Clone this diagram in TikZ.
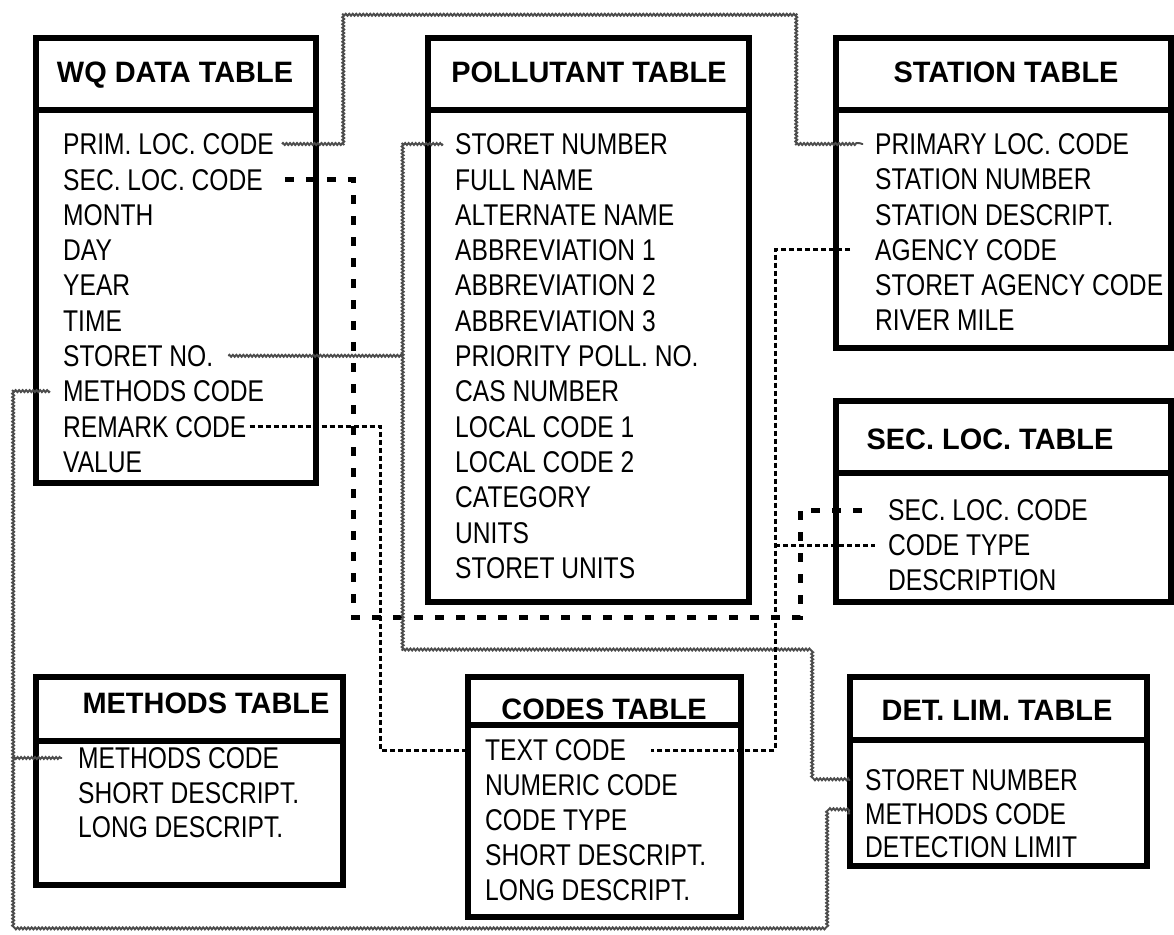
\documentclass[tikz,border=0pt]{standalone}
\usepackage{fontspec}
\setmainfont{Liberation Sans}
\newfontfamily\bodyfont{Liberation Sans}[FakeStretch=0.82]
\newfontfamily\headfont{Liberation Sans}[FakeStretch=0.98]
\usetikzlibrary{decorations.pathmorphing}
\begin{document}
\begin{tikzpicture}[x=1pt,y=-1pt,
  tbox/.style={draw, line width=6pt, outer sep=0pt, inner sep=0pt, anchor=north west},
  tdiv/.style={line width=5.5pt},
  ttl/.style={inner sep=0pt, text height=21pt, text depth=0pt, font=\headfont\bfseries\fontsize{29.5}{35}\selectfont},
  item/.style={anchor=west, inner sep=0pt, text height=21.5pt, text depth=0pt, font=\bodyfont\fontsize{30}{35}\selectfont},
  wavy/.style={draw=black!70, line width=1.9pt, decorate, decoration={snake, amplitude=1pt, segment length=3.5pt}},
  fkdash/.style={draw, line width=3pt, dash pattern=on 5pt off 3pt},
  sldash/.style={draw, line width=5pt, dash pattern=on 9pt off 12pt}]
\useasboundingbox (0,0) rectangle (1174,934);
\fill[white] (0,0) rectangle (1174,934);

% ---- tables ----
\node[tbox, minimum width=280pt, minimum height=445pt] (wq) at (36,38) {};
\draw[tdiv] (36,110) -- (316,110);
\node[ttl] (wqt) at (175,72) {WQ DATA TABLE};

\node[tbox, minimum width=320.5pt, minimum height=564pt] (pol) at (428,38) {};
\draw[tdiv] (428,110) -- (748.5,110);
\node[ttl] (polt) at (589,72) {POLLUTANT TABLE};

\node[tbox, minimum width=335pt, minimum height=310pt] (st) at (836,38) {};
\draw[tdiv] (836,110) -- (1171,110);
\node[ttl] (stt) at (1006,72) {STATION TABLE};

\node[tbox, minimum width=335pt, minimum height=201pt] (sl) at (836,401) {};
\draw[tdiv] (836,473) -- (1171,473);
\node[ttl] (slt) at (990,439) {SEC. LOC. TABLE};

\node[tbox, minimum width=307pt, minimum height=208pt] (mt) at (36,677) {};
\draw[tdiv] (36,741) -- (343,741);
\node[ttl] (mtt) at (206,703) {METHODS TABLE};

\node[tbox, minimum width=273pt, minimum height=240pt] (ct) at (468,677) {};
\draw[tdiv] (468,725) -- (741,725);
\node[ttl] (ctt) at (604,709) {CODES TABLE};

\node[tbox, minimum width=297pt, minimum height=189pt] (dl) at (850,677) {};
\draw[tdiv] (850,740) -- (1147,740);
\node[ttl] (dlt) at (997,710) {DET. LIM. TABLE};

% ---- items ----
\foreach \t [count=\i] in {PRIM. LOC. CODE, SEC. LOC. CODE, MONTH, DAY, YEAR, TIME, STORET NO., METHODS CODE, REMARK CODE, VALUE}
  \node[item] (wq\i) at (63,{144+35.3*(\i-1)}) {\t};
\foreach \t [count=\i] in {STORET NUMBER, FULL NAME, ALTERNATE NAME, ABBREVIATION 1, ABBREVIATION 2, ABBREVIATION 3, PRIORITY POLL. NO., CAS NUMBER, LOCAL CODE 1, LOCAL CODE 2, CATEGORY, UNITS, STORET UNITS}
  \node[item] (p\i) at (455,{144+35.3*(\i-1)}) {\t};
\foreach \t [count=\i] in {PRIMARY LOC. CODE, STATION NUMBER, STATION DESCRIPT., AGENCY CODE, STORET AGENCY CODE, RIVER MILE}
  \node[item] (st\i) at (875,{144+35.2*(\i-1)}) {\t};
\foreach \t [count=\i] in {SEC. LOC. CODE, CODE TYPE, DESCRIPTION}
  \node[item] (sl\i) at (888,{510+35*(\i-1)}) {\t};
\foreach \t [count=\i] in {METHODS CODE, SHORT DESCRIPT., LONG DESCRIPT.}
  \node[item] (mt\i) at (78,{758+34.5*(\i-1)}) {\t};
\foreach \t [count=\i] in {TEXT CODE, NUMERIC CODE, CODE TYPE, SHORT DESCRIPT., LONG DESCRIPT.}
  \node[item] (ct\i) at (485,{750+35*(\i-1)}) {\t};
\foreach \t [count=\i] in {STORET NUMBER, METHODS CODE, DETECTION LIMIT}
  \node[item] (dl\i) at (865,{780+33.5*(\i-1)}) {\t};

% ---- junction columns ----
\coordinate (stx) at (403,0);
\coordinate (mx) at (13,0);
\coordinate (ax) at (775,0);

% ---- connectors ----
% primary location code
\draw[wavy] ([xshift=8pt]wq1.east) -| (343,13) -| (798,144) -- ([xshift=-12pt]st1.west);
% secondary location code
\draw[sldash] ([xshift=22pt]wq2.east) -| (353,617) -| (800,510) -- ([xshift=-14pt]sl1.west);
% storet number
\draw[wavy] ([xshift=-12pt]p1.west) -| (403,652) -| (813,780) -- ([xshift=-15pt]dl1.west);
\draw[wavy] ([xshift=15pt]wq7.east) -- (wq7.east -| stx);
% methods code
\draw[wavy] ([xshift=-13pt]wq8.west) -| (13,929) -| (825,813) -- ([xshift=-15pt]dl2.west);
\draw[wavy] (mt1.west -| mx) -- ([xshift=-16pt]mt1.west);
% remark code
\draw[fkdash] ([xshift=3pt]wq9.east) -| (380,750) -- ([xshift=-20pt]ct1.west);
% agency code / code type
\draw[fkdash] ([xshift=-25pt]st4.west) -| (775,750) -- ([xshift=25pt]ct1.east);
\draw[fkdash] (sl2.west -| ax) -- ([xshift=-13pt]sl2.west);
\end{tikzpicture}
\end{document}
